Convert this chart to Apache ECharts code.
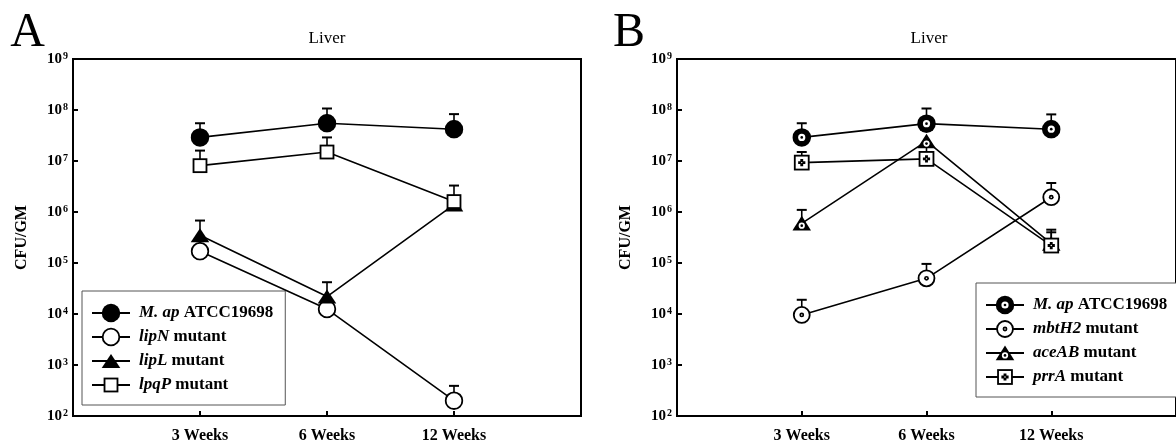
<!DOCTYPE html>
<html><head><meta charset="utf-8">
<script src="https://cdn.jsdelivr.net/npm/echarts@6/dist/echarts.min.js"></script>
<style>html,body{margin:0;padding:0;background:#fff}#c{width:1176px;height:444px}</style>
</head><body><div id="c"></div>
<script>
// ---------- data ----------
const weeks = ['3 Weeks', '6 Weeks', '12 Weeks'];
const weekPos = [1, 2, 3];

// Panel A
const namesA = ['M. ap ATCC19698', 'lipN mutant', 'lipL mutant', 'lpqP mutant'];
const italA = ['M. ap', 'lipN', 'lipL', 'lpqP'];
const plainA = ['ATCC19698', 'mutant', 'mutant', 'mutant'];
const mapA = [2.9e7, 5.5e7, 4.2e7];
const mapAUp = [5.5e7, 1.07e8, 8.3e7];
const lipN = [1.7e5, 1.25e4, 2.0e2];
const lipNUp = [null, null, 3.9e2];
const lipL = [3.5e5, 2.2e4, 1.4e6];
const lipLUp = [6.8e5, 4.2e4, null];
const lpqP = [8.1e6, 1.5e7, 1.6e6];
const lpqPUp = [1.6e7, 2.9e7, 3.3e6];

// Panel B
const namesB = ['M. ap ATCC19698 ', 'mbtH2 mutant', 'aceAB mutant', 'prrA mutant'];
const italB = ['M. ap', 'mbtH2', 'aceAB', 'prrA'];
const plainB = ['ATCC19698', 'mutant', 'mutant', 'mutant'];
const mapB = [2.9e7, 5.4e7, 4.2e7];
const mapBUp = [5.5e7, 1.07e8, 8.2e7];
const mbtH2 = [9.6e3, 5.0e4, 1.95e6];
const mbtH2Up = [1.9e4, 9.6e4, 3.7e6];
const aceAB = [6.0e5, 2.45e7, 2.4e5];
const aceABUp = [1.1e6, null, 4.0e5];
const prrA = [9.3e6, 1.1e7, 2.2e5];
const prrAUp = [1.5e7, 2.2e7, 4.5e5];

// ---------- styling helpers ----------
const FONT = '"Liberation Serif", "Times New Roman", serif';
const SVGNS = "xmlns='http://www.w3.org/2000/svg'";
const uri = s => 'image://data:image/svg+xml;charset=utf-8,' + encodeURIComponent(s);
const markerImg = body => uri("<svg " + SVGNS + " width='40' height='40' viewBox='0 0 40 40'>" + body + "</svg>");
// legend icon: line + marker, 38 x 24
const legendImg = body => uri("<svg " + SVGNS + " width='38' height='24' viewBox='0 0 38 24'>" +
  "<line x1='0' y1='12' x2='38' y2='12' stroke='#000' stroke-width='1.8'/>" +
  "<g transform='translate(9.4 2.4) scale(0.48)'>" + body + "</g></svg>");

const BODY = {
  fillCircle: "<circle cx='20' cy='20' r='19.3' fill='#000'/>",
  openCircle: "<circle cx='20' cy='20' r='17.4' fill='#fff' stroke='#000' stroke-width='3.8'/>",
  fillTri: "<polygon points='20,5.5 0.6,34.5 39.4,34.5' fill='#000'/>",
  openSquare: "<rect x='6.5' y='6.5' width='27' height='27' fill='#fff' stroke='#000' stroke-width='3.8'/>",
  ringB: "<circle cx='20' cy='20' r='19.3' fill='#000'/><circle cx='20' cy='20' r='7.5' fill='#fff'/><circle cx='20' cy='20' r='2.8' fill='#000'/>",
  openDotB: "<circle cx='20' cy='20' r='16.6' fill='#fff' stroke='#000' stroke-width='3.8'/><circle cx='20' cy='20' r='5' fill='#000'/><circle cx='20' cy='20' r='1.6' fill='#fff'/>",
  triB: "<polygon points='20,4.5 0.6,35 39.4,35' fill='#000'/><circle cx='20' cy='25' r='6.5' fill='#fff'/><circle cx='20' cy='25' r='2.8' fill='#000'/>",
  squareB: "<rect x='5.5' y='5.5' width='29' height='29' fill='#fff' stroke='#000' stroke-width='3.8'/><path d='M17,12.5h6v4.5h4.5v6h-4.5v4.5h-6v-4.5h-4.5v-6h4.5z' fill='#000'/><circle cx='20' cy='20' r='1.5' fill='#fff'/>"
};
const symA = ['fillCircle', 'openCircle', 'fillTri', 'openSquare'];
const symB = ['ringB', 'openDotB', 'triB', 'squareB'];
const SYM_SIZE = 19.2;

function xAxisOf(gi) {
  return {
    type: 'value', gridIndex: gi, min: 0, max: 4,
    axisLine: { show: true, lineStyle: { color: '#000', width: 2 } },
    axisTick: { show: true, inside: true, length: 5, customValues: weekPos, lineStyle: { color: '#000', width: 2 } },
    axisLabel: { customValues: weekPos, formatter: v => weeks[Math.round(v) - 1] || '', margin: 12,
      color: '#000', fontFamily: FONT, fontWeight: 'bold', fontSize: 16 },
    splitLine: { show: false }
  };
}
function yAxisOf(gi) {
  return {
    type: 'log', logBase: 10, gridIndex: gi, min: 1e2, max: 1e9, splitNumber: 7,
    axisLine: { show: true, lineStyle: { color: '#000', width: 2 } },
    axisTick: { show: true, inside: true, length: 5, lineStyle: { color: '#000', width: 2 } },
    minorTick: { show: false }, splitLine: { show: false },
    axisLabel: {
      margin: 5,
      formatter: v => '{b|10}{s|' + Math.round(Math.log10(v)) + '}',
      rich: {
        b: { fontFamily: FONT, fontWeight: 'bold', fontSize: 15, color: '#000', lineHeight: 16 },
        s: { fontFamily: FONT, fontWeight: 'bold', fontSize: 10, color: '#000', verticalAlign: 'top', lineHeight: 10, padding: [0, 0, 6, 1] }
      }
    }
  };
}
function lineSeries(name, vals, sym, gi) {
  return {
    type: 'line', name: name, xAxisIndex: gi, yAxisIndex: gi,
    data: vals.map((v, i) => [weekPos[i], v]),
    symbol: markerImg(BODY[sym]), symbolSize: SYM_SIZE, showAllSymbol: true,
    lineStyle: { color: '#000', width: 1.6 }, itemStyle: { color: '#000' },
    z: 4, animation: false, emphasis: { disabled: true }
  };
}
function errSeries(vals, ups, gi) {
  const d = [];
  vals.forEach((v, i) => { if (ups[i] != null) d.push([weekPos[i], v, ups[i]]); });
  return {
    type: 'custom', xAxisIndex: gi, yAxisIndex: gi, z: 3, animation: false, silent: true,
    encode: { x: 0, y: [1, 2] },
    data: d,
    renderItem: (params, api) => {
      const p0 = api.coord([api.value(0), api.value(1)]);
      const p1 = api.coord([api.value(0), api.value(2)]);
      return { type: 'group', children: [
        { type: 'line', shape: { x1: p0[0], y1: p0[1], x2: p1[0], y2: p1[1] }, style: { stroke: '#000', lineWidth: 1.6 } },
        { type: 'line', shape: { x1: p1[0] - 5, y1: p1[1], x2: p1[0] + 5, y2: p1[1] }, style: { stroke: '#000', lineWidth: 2 } }
      ] };
    }
  };
}
function legendOf(names, ital, plain, syms, left, top, padRight) {
  return {
    data: names.map((n, i) => ({ name: n, icon: legendImg(BODY[syms[i]]) })),
    orient: 'vertical', left: left, top: top,
    itemWidth: 38, itemHeight: 24, itemGap: 0, symbolKeepAspect: false,
    padding: [10, padRight, 8, 10],
    borderColor: '#555', borderWidth: 1, borderRadius: 0, backgroundColor: '#fff',
    selectedMode: false,
    formatter: n => { const i = names.indexOf(n); return '{i|' + ital[i] + '} {b|' + plain[i] + '}'; },
    textStyle: {
      fontFamily: FONT, fontWeight: 'bold', fontSize: 17, color: '#000',
      rich: {
        i: { fontFamily: FONT, fontStyle: 'italic', fontWeight: 'bold', fontSize: 17, color: '#000', padding: [0, 0, 0, 4] },
        b: { fontFamily: FONT, fontWeight: 'bold', fontSize: 17, color: '#000' }
      }
    }
  };
}
function txt(text, x, y, size, weight, rot) {
  return { type: 'text', x: x, y: y, rotation: rot || 0, silent: true,
    style: { text: text, fontFamily: FONT, fontSize: size, fontWeight: weight, fill: '#000',
      textAlign: 'center', textVerticalAlign: 'middle', align: 'center', verticalAlign: 'middle' } };
}

const chart = echarts.init(document.getElementById('c'));
chart.setOption({
  backgroundColor: '#fff',
  animation: false,
  grid: [
    { left: 73, top: 59, width: 508, height: 357, show: true, borderColor: '#000', borderWidth: 2 },
    { left: 677, top: 59, width: 508, height: 357, show: true, borderColor: '#000', borderWidth: 2 }
  ],
  xAxis: [xAxisOf(0), xAxisOf(1)],
  yAxis: [yAxisOf(0), yAxisOf(1)],
  legend: [
    legendOf(namesA, italA, plainA, symA, 82, 291, 12),
    legendOf(namesB, italB, plainB, symB, 976, 283, 30)
  ],
  graphic: [
    txt('A', 27.5, 33, 48, 'normal'),
    txt('B', 629, 33, 48, 'normal'),
    txt('Liver', 327, 39, 17, 'normal'),
    txt('Liver', 929, 39, 17, 'normal'),
    txt('CFU/GM', 21.5, 237.5, 16, 'bold', Math.PI / 2),
    txt('CFU/GM', 625.5, 237.5, 16, 'bold', Math.PI / 2)
  ],
  series: [
    errSeries(mapA, mapAUp, 0), errSeries(lipN, lipNUp, 0), errSeries(lipL, lipLUp, 0), errSeries(lpqP, lpqPUp, 0),
    lineSeries(namesA[0], mapA, symA[0], 0),
    lineSeries(namesA[1], lipN, symA[1], 0),
    lineSeries(namesA[2], lipL, symA[2], 0),
    lineSeries(namesA[3], lpqP, symA[3], 0),
    errSeries(mapB, mapBUp, 1), errSeries(mbtH2, mbtH2Up, 1), errSeries(aceAB, aceABUp, 1), errSeries(prrA, prrAUp, 1),
    lineSeries(namesB[0], mapB, symB[0], 1),
    lineSeries(namesB[1], mbtH2, symB[1], 1),
    lineSeries(namesB[2], aceAB, symB[2], 1),
    lineSeries(namesB[3], prrA, symB[3], 1)
  ]
});
</script>
</body></html>
